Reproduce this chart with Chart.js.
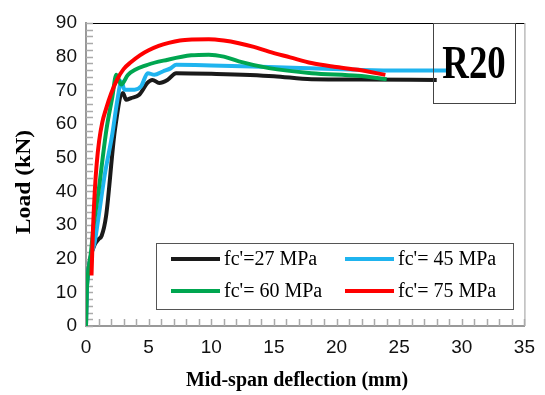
<!DOCTYPE html>
<html>
<head>
<meta charset="utf-8">
<script src="https://cdn.jsdelivr.net/npm/chart.js@4"></script>
<style>
  html, body { margin: 0; padding: 0; background: #fff; }
  #wrap { width: 545px; height: 395px; position: relative; }
</style>
</head>
<body>
<div id="wrap"><canvas id="loadChart"></canvas></div>
<script>
// Load–deflection curves, beam R20
const labels = ["fc'=27 MPa", "fc'= 45 MPa", "fc'= 60 MPa", "fc'= 75 MPa"];
const colors = ['#1a1a1a', '#1fb4ef', '#00a650', '#ff0000'];

const fc27X = [0, 0.03, 0.08, 0.17, 0.4, 0.7, 1.0, 1.25, 1.6, 2.3, 2.95, 3.2, 3.6, 4.25, 4.9, 5.3, 5.85, 6.5, 7.2, 10, 15, 18, 22, 28];
const fc27Y = [0, 6, 12, 16, 21, 24.2, 25.8, 26.8, 32.6, 58, 69.2, 67.2, 67.7, 68.7, 72.2, 73.1, 72.2, 73.1, 75.1, 74.9, 74.2, 73.3, 73.2, 73.1];

const fc45X = [0, 0.03, 0.08, 0.17, 0.4, 0.7, 0.97, 1.5, 2.1, 2.5, 2.82, 3.08, 3.87, 4.4, 4.93, 5.46, 6.13, 6.79, 7.2, 10, 14.6, 21.7, 25, 29];
const fc45Y = [0, 6, 12, 16, 21, 25, 31.6, 45, 57, 67, 72.6, 70.2, 70.2, 71.2, 75.1, 74.6, 75.6, 76.6, 77.6, 77.4, 76.9, 76.1, 75.9, 75.9];

const fc60X = [0, 0.03, 0.08, 0.17, 0.4, 0.57, 1.0, 1.63, 2.1, 2.42, 2.82, 3.35, 4.93, 6.52, 8.4, 9.8, 11, 12.2, 14.6, 18, 21.7, 24];
const fc60Y = [0, 6, 12, 16, 22, 28.6, 40, 58.3, 68, 74.6, 71.7, 74.6, 77.6, 79.1, 80.4, 80.6, 80, 78.6, 76.6, 75.1, 74.3, 73.3];

const fc75X = [0.44, 0.55, 0.7, 0.85, 1.05, 1.3, 1.6, 2.0, 2.5, 3.0, 3.6, 4.3, 5.0, 5.8, 6.6, 7.5, 8.5, 9.8, 11, 12.2, 13.4, 14.6, 16.3, 18, 19.8, 21.7, 23.9];
const fc75Y = [15, 28, 40, 48, 55, 60.5, 64.5, 69, 73.3, 76.3, 78.4, 80.4, 81.9, 83.2, 84.1, 84.8, 85.1, 85.2, 84.8, 84.0, 82.9, 81.5, 79.8, 78.1, 77, 76.1, 74.6];

const seriesX = [fc27X, fc45X, fc60X, fc75X];
const seriesY = [fc27Y, fc45Y, fc60Y, fc75Y];

const xTicks = [0, 5, 10, 15, 20, 25, 30, 35];
const yTicks = [0, 10, 20, 30, 40, 50, 60, 70, 80, 90];

function line(ctx, x1, y1, x2, y2) {
    ctx.beginPath();
    ctx.moveTo(x1, y1);
    ctx.lineTo(x2, y2);
    ctx.stroke();
}

// frame, inner tick marks, legend, R20 box, axis titles
const decor = {
    id: 'decor',
    beforeDatasetsDraw(chart) {
        const { ctx, chartArea: a, scales: { x, y } } = chart;
        ctx.save();
        ctx.strokeStyle = '#000';
        ctx.lineWidth = 1;
        line(ctx, a.left, a.top + 0.5, a.right, a.top + 0.5);
        ctx.strokeStyle = '#999';
        line(ctx, a.right + 0.5, a.top, a.right + 0.5, a.bottom);
        ctx.lineWidth = 1.5;
        ctx.strokeStyle = '#aaa';
        y.ticks.forEach(t => {
            const py = Math.round(y.getPixelForValue(t.value)) + 0.5;
            line(ctx, a.left, py, a.left + 7, py);
        });
        x.ticks.forEach(t => {
            const px = Math.round(x.getPixelForValue(t.value)) + 0.5;
            line(ctx, px, a.bottom, px, a.bottom - 7);
        });
        ctx.restore();
    },
    afterDraw(chart) {
        const { ctx } = chart;
        ctx.save();

        // legend box
        ctx.fillStyle = '#fff';
        ctx.fillRect(156, 243, 357, 66);
        ctx.strokeStyle = '#555';
        ctx.lineWidth = 1;
        ctx.strokeRect(156.5, 243.5, 357, 66);
        const slots = [[171, 259], [345, 259], [171, 291], [345, 291]];
        ctx.font = '20px "Liberation Serif"';
        ctx.textBaseline = 'middle';
        ctx.textAlign = 'left';
        chart.data.datasets.forEach((ds, i) => {
            const [lx, ly] = slots[i];
            ctx.strokeStyle = ds.borderColor;
            ctx.lineWidth = 4;
            line(ctx, lx, ly, lx + 49, ly);
            ctx.fillStyle = '#000';
            ctx.fillText(ds.label, lx + 53, ly + 1);
        });

        // R20 box
        ctx.strokeStyle = '#444';
        ctx.lineWidth = 1;
        ctx.strokeRect(433.5, 23.5, 82, 80);
        ctx.save();
        ctx.translate(474, 78);
        ctx.scale(0.8, 1);
        ctx.font = 'bold 46px "Liberation Serif"';
        ctx.textAlign = 'center';
        ctx.textBaseline = 'alphabetic';
        ctx.fillStyle = '#000';
        ctx.fillText('R20', 0, 0);
        ctx.restore();

        // axis titles
        ctx.fillStyle = '#000';
        ctx.font = 'bold 20px "Liberation Serif"';
        ctx.textAlign = 'center';
        ctx.textBaseline = 'middle';
        ctx.fillText('Mid-span deflection (mm)', 297, 381);
        ctx.save();
        ctx.translate(25, 182);
        ctx.rotate(-Math.PI / 2);
        ctx.scale(1.18, 1);
        ctx.font = 'bold 20px "Liberation Serif"';
        ctx.fillText('Load (kN)', 0, 0);
        ctx.restore();

        ctx.restore();
    }
};

const datasets = labels.map((lab, i) => ({
    label: lab,
    data: seriesX[i].map((v, j) => ({ x: v, y: seriesY[i][j] })),
    borderColor: colors[i],
    backgroundColor: colors[i],
    borderWidth: 4,
    pointRadius: 0,
    showLine: true,
    cubicInterpolationMode: 'monotone',
    order: 3 - i
}));

new Chart(document.getElementById('loadChart'), {
    type: 'scatter',
    data: { datasets: datasets },
    options: {
        responsive: true,
        maintainAspectRatio: false,
        animation: false,
        layout: { padding: { left: 0, right: 18, top: 23, bottom: 0 } },
        plugins: { legend: { display: false }, tooltip: { enabled: false } },
        scales: {
            x: {
                type: 'linear',
                min: 0,
                max: 35,
                afterFit: s => { s.height = 69; },
                grid: { display: false, drawTicks: false },
                border: { display: true, color: '#999', width: 2 },
                ticks: {
                    stepSize: 1,
                    autoSkip: false,
                    maxRotation: 0,
                    padding: 10,
                    color: '#111',
                    font: { family: '"Liberation Sans"', size: 19 },
                    callback: v => xTicks.includes(v) ? String(v) : ''
                }
            },
            y: {
                type: 'linear',
                min: 0,
                max: 90,
                afterFit: s => { s.width = 86; },
                grid: { display: false, drawTicks: false },
                border: { display: true, color: '#999', width: 2 },
                ticks: {
                    stepSize: 2,
                    autoSkip: false,
                    padding: 9,
                    color: '#111',
                    font: { family: '"Liberation Sans"', size: 19 },
                    callback: v => yTicks.includes(v) ? String(v) : ''
                }
            }
        }
    },
    plugins: [decor]
});
</script>
</body>
</html>
